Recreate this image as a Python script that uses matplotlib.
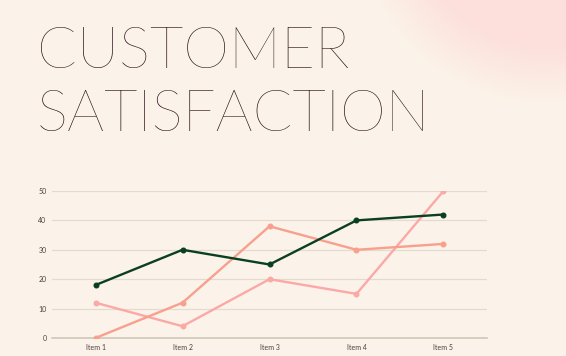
import numpy as np
import matplotlib.pyplot as plt

plt.rcParams["figure.figsize"] = (5.66, 3.56)
plt.rcParams["font.family"] = ["Lato", "DejaVu Sans"]

items = ["Item 1", "Item 2", "Item 3", "Item 4", "Item 5"]
series_green = [18, 30, 25, 40, 42]
series_salmon = [0, 12, 38, 30, 32]
series_pink = [12, 4, 20, 15, 50]
yticks = [0, 10, 20, 30, 40, 50]

bg = "#fbf3e9"
fig = plt.figure(dpi=100, facecolor=bg)

# soft pink blob in the top right corner
bgax = fig.add_axes([0, 0, 1, 1], zorder=-10)
bgax.set_axis_off()
xx, yy = np.meshgrid(np.arange(566), np.arange(356))
d = np.hypot(xx - 545, yy + 85)
t = np.clip((190 - d) / 60, 0, 1)
c0 = np.array([0xfb, 0xf3, 0xe9]) / 255
c1 = np.array([0xfd, 0xe0, 0xdb]) / 255
img = c0 + (c1 - c0) * t[..., None]
bgax.imshow(img, extent=[0, 566, 356, 0], aspect="auto")
bgax.set_xlim(0, 566)
bgax.set_ylim(356, 0)

fig.text(0.065, 0.81, "CUSTOMER", fontsize=42, fontweight=100,
         color="#2a0e16", ha="left", va="baseline")
fig.text(0.065, 0.632, "SATISFACTION", fontsize=42, fontweight=100,
         color="#2a0e16", ha="left", va="baseline")

ax = fig.add_axes([0.0919, 0.0506, 0.7685, 0.4129])
ax.set_facecolor("none")
x = np.arange(len(items))
ax.plot(x, series_pink, color="#fba9a7", lw=1.7, marker="o", ms=3.3, zorder=3)
ax.plot(x, series_salmon, color="#f7a08e", lw=1.7, marker="o", ms=3.3, zorder=3)
ax.plot(x, series_green, color="#0b3f22", lw=1.7, marker="o", ms=3.3, zorder=4)

ax.set_xlim(-0.5, 4.5)
ax.set_ylim(0, 50)
ax.set_xticks(x)
ax.set_xticklabels(items)
ax.set_yticks(yticks)
for s in ["top", "right", "left"]:
    ax.spines[s].set_visible(False)
ax.spines["bottom"].set_color("#d2c6b9")
ax.spines["bottom"].set_linewidth(1.2)
ax.grid(axis="y", color="#e4dacf", lw=0.9)
ax.set_axisbelow(True)
ax.tick_params(length=0, labelsize=5, labelcolor="#4a4040", pad=4)

fig.savefig("out.png", dpi=100, facecolor=bg)
